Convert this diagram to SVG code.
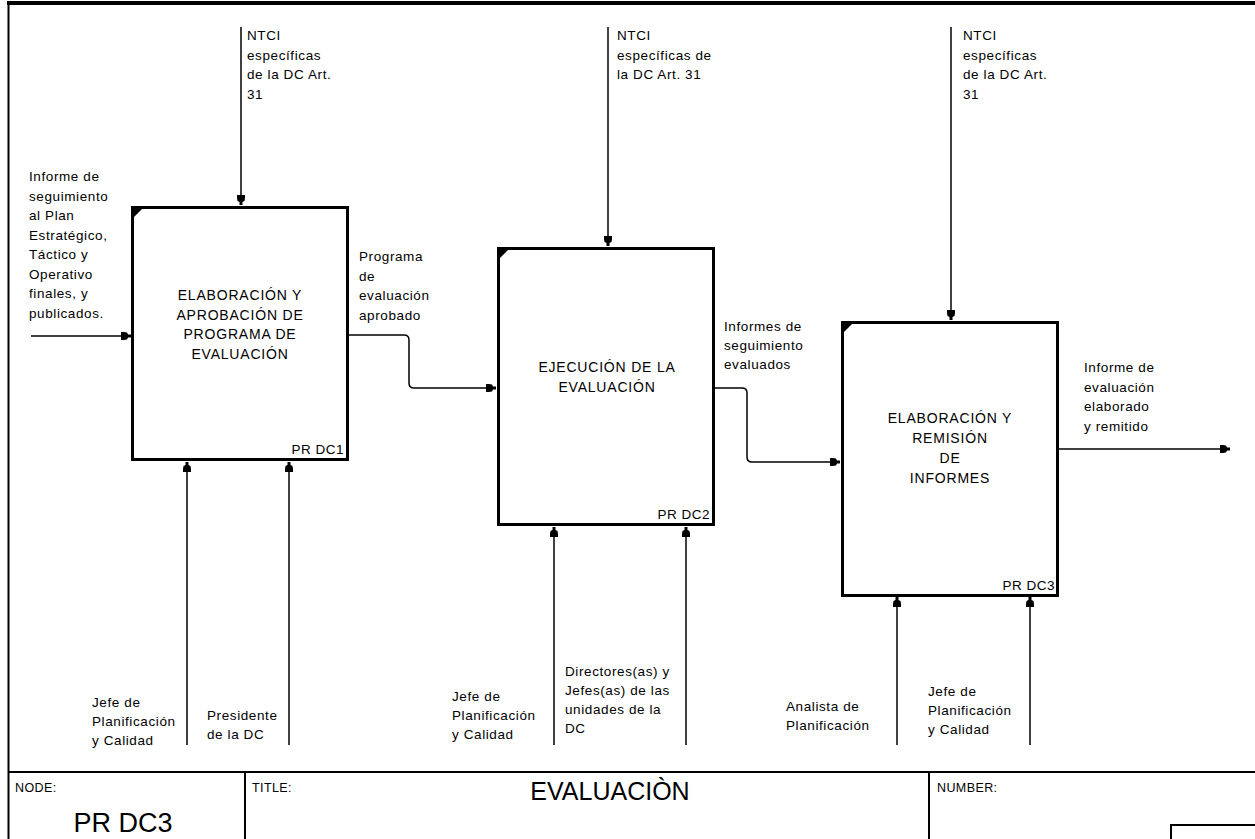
<svg xmlns="http://www.w3.org/2000/svg" width="1255" height="839" viewBox="0 0 1255 839">
<style>
.lbl{font-family:"Liberation Sans",Arial,sans-serif;font-size:13.5px;letter-spacing:0.6px;fill:#000}
.ttl{font-family:"Liberation Sans",Arial,sans-serif;font-size:14px;letter-spacing:0.8px;fill:#000;text-anchor:middle}
.code{font-family:"Liberation Sans",Arial,sans-serif;font-size:13.5px;letter-spacing:0.5px;fill:#000;text-anchor:end}
.foot{font-family:"Liberation Sans",Arial,sans-serif;font-size:12.5px;letter-spacing:0.4px;fill:#000}
.box{fill:#fff;stroke:#000;stroke-width:3}
.conn{fill:none;stroke:#000;stroke-width:1.5;marker-end:url(#ah)}
.frame{fill:none;stroke:#000}
</style>
<defs>
<marker id="ah" markerUnits="userSpaceOnUse" markerWidth="11" markerHeight="9" refX="10" refY="4.5" orient="auto" viewBox="0 0 11 9">
<path d="M0,0.5 L3,0.5 L6,1 L7,3 L10,3 L10,6 L7,6 L6,8 L3,8.5 L0,8.5 Z" fill="#000"/>
</marker>
</defs>
<rect width="1255" height="839" fill="#fff"/>
<g id="frame">
<line class="frame" x1="7" y1="3" x2="1255" y2="3" stroke-width="4"/>
<line class="frame" x1="8.5" y1="3" x2="8.5" y2="839" stroke-width="2"/>
<line class="frame" x1="8" y1="772" x2="1255" y2="772" stroke-width="2"/>
<line class="frame" x1="245" y1="772" x2="245" y2="839" stroke-width="2"/>
<line class="frame" x1="929" y1="772" x2="929" y2="839" stroke-width="2"/>
<polyline class="frame" points="1171,839 1171,825 1255,825" stroke-width="2"/>
<text class="foot" x="15" y="792">NODE:</text>
<text class="foot" x="252" y="792">TITLE:</text>
<text class="foot" x="937" y="792">NUMBER:</text>
<text x="123" y="832" font-family="'Liberation Sans',Arial,sans-serif" font-size="27" text-anchor="middle">PR DC3</text>
<text x="610" y="800" font-family="'Liberation Sans',Arial,sans-serif" font-size="25" text-anchor="middle">EVALUACIÒN</text>
</g>
<g id="connectors">
<path class="conn" d="M31,336 H131"/>
<path class="conn" d="M241,27 V205"/>
<path class="conn" d="M608,27 V246"/>
<path class="conn" d="M951,27 V320"/>
<path class="conn" d="M348,335 H404 Q409,335 409,340 V383 Q409,388 414,388 H496"/>
<path class="conn" d="M713,388 H742 Q747,388 747,393 V457 Q747,462 752,462 H840"/>
<path class="conn" d="M1058,449 H1230"/>
<path class="conn" d="M187,745 V462"/>
<path class="conn" d="M289,745 V462"/>
<path class="conn" d="M554,745 V527"/>
<path class="conn" d="M686,745 V527"/>
<path class="conn" d="M897,745 V597"/>
<path class="conn" d="M1030,745 V597"/>
</g>
<g id="labels">
<text class="lbl"><tspan x="247" y="40">NTCI</tspan><tspan x="247" y="59.5">específicas</tspan><tspan x="247" y="79">de la DC Art.</tspan><tspan x="247" y="98.5">31</tspan></text>
<text class="lbl"><tspan x="617" y="40">NTCI</tspan><tspan x="617" y="59.5">específicas de</tspan><tspan x="617" y="79">la DC Art. 31</tspan></text>
<text class="lbl"><tspan x="963" y="40">NTCI</tspan><tspan x="963" y="59.5">específicas</tspan><tspan x="963" y="79">de la DC Art.</tspan><tspan x="963" y="98.5">31</tspan></text>
<text class="lbl"><tspan x="29" y="181">Informe de</tspan><tspan x="29" y="200.5">seguimiento</tspan><tspan x="29" y="220">al Plan</tspan><tspan x="29" y="239.5">Estratégico,</tspan><tspan x="29" y="259">Táctico y</tspan><tspan x="29" y="278.5">Operativo</tspan><tspan x="29" y="298">finales, y</tspan><tspan x="29" y="317.5">publicados.</tspan></text>
<text class="lbl"><tspan x="359" y="261">Programa</tspan><tspan x="359" y="280.5">de</tspan><tspan x="359" y="300">evaluación</tspan><tspan x="359" y="319.5">aprobado</tspan></text>
<text class="lbl"><tspan x="724" y="331">Informes de</tspan><tspan x="724" y="350">seguimiento</tspan><tspan x="724" y="369">evaluados</tspan></text>
<text class="lbl"><tspan x="1084" y="372">Informe de</tspan><tspan x="1084" y="391.5">evaluación</tspan><tspan x="1084" y="411">elaborado</tspan><tspan x="1084" y="430.5">y remitido</tspan></text>
<text class="lbl"><tspan x="92" y="707">Jefe de</tspan><tspan x="92" y="726">Planificación</tspan><tspan x="92" y="745">y Calidad</tspan></text>
<text class="lbl"><tspan x="207" y="720">Presidente</tspan><tspan x="207" y="739">de la DC</tspan></text>
<text class="lbl"><tspan x="452" y="701">Jefe de</tspan><tspan x="452" y="720">Planificación</tspan><tspan x="452" y="739">y Calidad</tspan></text>
<text class="lbl"><tspan x="565" y="676">Directores(as) y</tspan><tspan x="565" y="695">Jefes(as) de las</tspan><tspan x="565" y="714">unidades de la</tspan><tspan x="565" y="733">DC</tspan></text>
<text class="lbl"><tspan x="786" y="711">Analista de</tspan><tspan x="786" y="730">Planificación</tspan></text>
<text class="lbl"><tspan x="928" y="696">Jefe de</tspan><tspan x="928" y="715">Planificación</tspan><tspan x="928" y="734">y Calidad</tspan></text>
</g>
<g id="node-dc1">
<rect class="box" x="132.5" y="207.5" width="215" height="252"/>
<path d="M134,209 L142,209 L134,217 Z" fill="#000"/>
<text class="ttl"><tspan x="240" y="300">ELABORACIÓN Y</tspan><tspan x="240" y="319.5">APROBACIÓN DE</tspan><tspan x="240" y="339">PROGRAMA DE</tspan><tspan x="240" y="358.5">EVALUACIÓN</tspan></text>
<text class="code" x="344" y="454">PR DC1</text>
</g>
<g id="node-dc2">
<rect class="box" x="498.5" y="248.5" width="215" height="276"/>
<path d="M500,250 L508,250 L500,258 Z" fill="#000"/>
<text class="ttl"><tspan x="607" y="372">EJECUCIÓN DE LA</tspan><tspan x="607" y="392">EVALUACIÓN</tspan></text>
<text class="code" x="710" y="519">PR DC2</text>
</g>
<g id="node-dc3">
<rect class="box" x="842.5" y="322.5" width="215" height="273"/>
<path d="M844,324 L852,324 L844,332 Z" fill="#000"/>
<text class="ttl"><tspan x="950" y="423">ELABORACIÓN Y</tspan><tspan x="950" y="443">REMISIÓN</tspan><tspan x="950" y="463">DE</tspan><tspan x="950" y="483">INFORMES</tspan></text>
<text class="code" x="1055" y="590">PR DC3</text>
</g>
</svg>
